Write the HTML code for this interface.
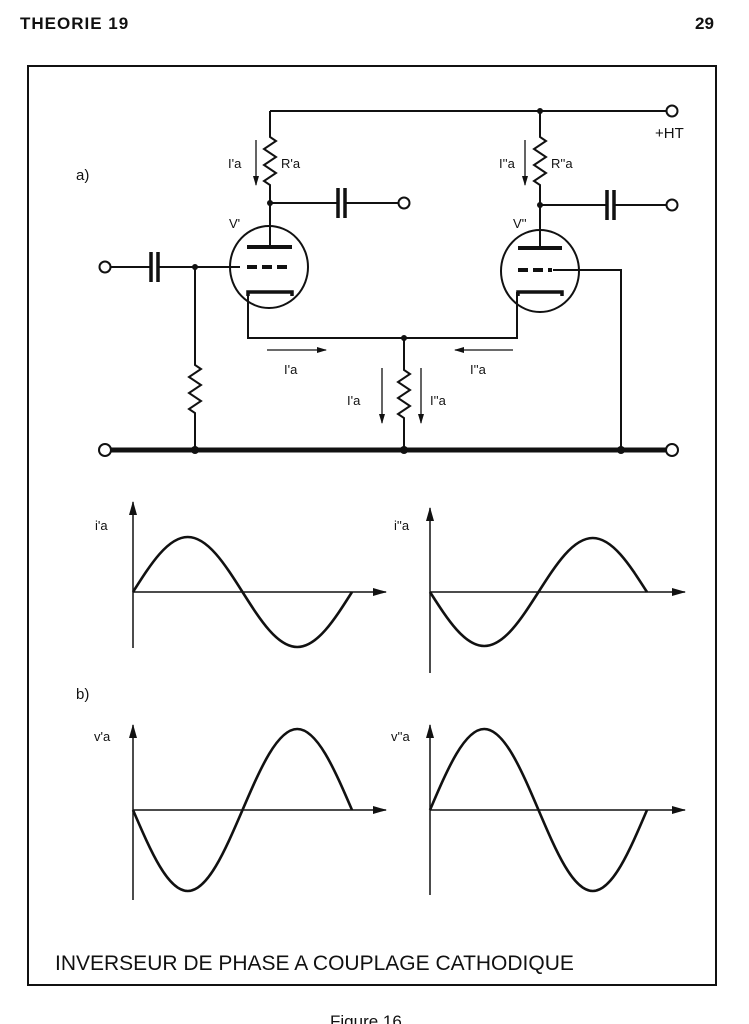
<!DOCTYPE html>
<html><head><meta charset="utf-8"><style>
html,body{margin:0;padding:0;background:#fff;}
body{width:749px;height:1024px;overflow:hidden;position:relative;}
svg{position:absolute;left:0;top:0;}
text{font-family:"Liberation Sans",sans-serif;fill:#111;}
</style></head><body>
<svg width="749" height="1024" viewBox="0 0 749 1024">
<defs>
<marker id="ah" markerWidth="10" markerHeight="8" refX="9" refY="4" orient="auto" markerUnits="userSpaceOnUse"><path d="M0,1 L10,4 L0,7 z" fill="#111"/></marker>
<marker id="ab" markerWidth="14" markerHeight="10" refX="13" refY="5" orient="auto" markerUnits="userSpaceOnUse"><path d="M0,1 L14,5 L0,9 z" fill="#111"/></marker>
</defs>
<text x="20" y="29" font-size="17" font-weight="bold" letter-spacing="1">THEORIE 19</text>
<text x="695" y="29" font-size="17" font-weight="bold">29</text>
<rect x="28" y="66" width="688" height="919" fill="none" stroke="#111" stroke-width="2"/>

<g stroke="#111" fill="none" stroke-width="2">
<!-- top wire -->
<path d="M270 111 H667"/>
<circle cx="672" cy="111" r="5.5" stroke-width="2"/>
<!-- R'a -->
<path d="M270 111 V137 L276 141 L264 149 L276 157 L264 165 L276 173 L264 181 L270 185 V247"/>
<!-- R''a -->
<path d="M540 111 V137 L546 141 L534 149 L546 157 L534 165 L546 173 L534 181 L540 185 V248"/>
<!-- output caps -->
<path d="M270 203 H338 M345 203 H399"/>
<path d="M338 188 V218 M345 188 V218" stroke-width="3.5"/>
<circle cx="404" cy="203" r="5.5"/>
<path d="M540 205 H607 M614 205 H667"/>
<path d="M607 190 V220 M614 190 V220" stroke-width="3.5"/>
<circle cx="672" cy="205" r="5.5"/>
<!-- tubes -->
<ellipse cx="269" cy="267" rx="39" ry="41"/>
<ellipse cx="540" cy="271" rx="39" ry="41"/>
<path d="M247 247 H292 M518 248 H562" stroke-width="4"/>
<path d="M247 267 H292" stroke-width="4" stroke-dasharray="10,5"/>
<path d="M518 270 H552" stroke-width="4" stroke-dasharray="10,5"/>
<path d="M248 296 V292 H292 V296 M518 296 V292 H562 V296" stroke-width="3.5"/>
<!-- input -->
<circle cx="105" cy="267" r="5.5"/>
<path d="M110 267 H151 M158 267 H240"/>
<path d="M151 252 V282 M158 252 V282" stroke-width="3.5"/>
<!-- grid resistor -->
<path d="M195 267 V365 L201 369 L189 377 L201 385 L189 393 L201 401 L189 409 L195 413 V450"/>
<!-- cathode line -->
<path d="M248 292 V338 H517 V292"/>
<path d="M404 338 V370 L410 374 L398 382 L410 390 L398 398 L410 406 L398 414 L404 418 V450"/>
<!-- right grid to ground -->
<path d="M553 270 H621 V450"/>
<!-- bus -->
<path d="M110 450 H667" stroke-width="5"/>
<circle cx="105" cy="450" r="6"/>
<circle cx="672" cy="450" r="6"/>
<!-- current arrows -->
<path d="M256 140 V185" stroke-width="1.3" marker-end="url(#ah)"/>
<path d="M525 140 V185" stroke-width="1.3" marker-end="url(#ah)"/>
<path d="M267 350 H326" stroke-width="1.3" marker-end="url(#ah)"/>
<path d="M513 350 H455" stroke-width="1.3" marker-end="url(#ah)"/>
<path d="M382 368 V423" stroke-width="1.3" marker-end="url(#ah)"/>
<path d="M421 368 V423" stroke-width="1.3" marker-end="url(#ah)"/>
</g>
<g fill="#111">
<circle cx="270" cy="203" r="3"/><circle cx="540" cy="205" r="3"/><circle cx="540" cy="111" r="3"/>
<circle cx="195" cy="267" r="3"/><circle cx="404" cy="338" r="3"/>
<circle cx="195" cy="450" r="4"/><circle cx="404" cy="450" r="4"/><circle cx="621" cy="450" r="4"/>
</g>
<g font-size="13">
<text x="655" y="138" font-size="15">+HT</text>
<text x="76" y="180" font-size="15">a)</text>
<text x="228" y="168">I'a</text>
<text x="281" y="168">R'a</text>
<text x="499" y="168">I''a</text>
<text x="551" y="168">R''a</text>
<text x="229" y="228">V'</text>
<text x="513" y="228">V''</text>
<text x="284" y="374">I'a</text>
<text x="470" y="374">I''a</text>
<text x="347" y="405">I'a</text>
<text x="430" y="405">I''a</text>
<text x="95" y="530">i'a</text>
<text x="394" y="530">i''a</text>
<text x="76" y="699" font-size="15">b)</text>
<text x="94" y="741">v'a</text>
<text x="391" y="741">v''a</text>
</g>

<!-- graphs -->
<g stroke="#111" fill="none" stroke-width="1.5">
<path d="M133 648 V502" marker-end="url(#ab)"/>
<path d="M133 592 H386" marker-end="url(#ab)"/>
<path d="M430 673 V508" marker-end="url(#ab)"/>
<path d="M430 592 H685" marker-end="url(#ab)"/>
<path d="M133 900 V725" marker-end="url(#ab)"/>
<path d="M133 810 H386" marker-end="url(#ab)"/>
<path d="M430 895 V725" marker-end="url(#ab)"/>
<path d="M430 810 H685" marker-end="url(#ab)"/>
</g>
<g stroke="#111" fill="none" stroke-width="2.6">
<path vector-effect="non-scaling-stroke" transform="translate(133,592) scale(54.75,55)" d="M0 0 C.326 -.512 .638 -1 1 -1 C1.362 -1 1.674 -.512 2 0 C2.326 .512 2.638 1 3 1 C3.362 1 3.674 .512 4 0"/>
<path vector-effect="non-scaling-stroke" transform="translate(430,592) scale(54.25,-54)" d="M0 0 C.326 -.512 .638 -1 1 -1 C1.362 -1 1.674 -.512 2 0 C2.326 .512 2.638 1 3 1 C3.362 1 3.674 .512 4 0"/>
<path vector-effect="non-scaling-stroke" transform="translate(133,810) scale(54.75,-81)" d="M0 0 C.326 -.512 .638 -1 1 -1 C1.362 -1 1.674 -.512 2 0 C2.326 .512 2.638 1 3 1 C3.362 1 3.674 .512 4 0"/>
<path vector-effect="non-scaling-stroke" transform="translate(430,810) scale(54.25,81)" d="M0 0 C.326 -.512 .638 -1 1 -1 C1.362 -1 1.674 -.512 2 0 C2.326 .512 2.638 1 3 1 C3.362 1 3.674 .512 4 0"/>
</g>
<text x="55" y="970" font-size="21">INVERSEUR DE PHASE A COUPLAGE CATHODIQUE</text>
<text x="330" y="1027" font-size="17">Figure 16</text>
</svg>
</body></html>
